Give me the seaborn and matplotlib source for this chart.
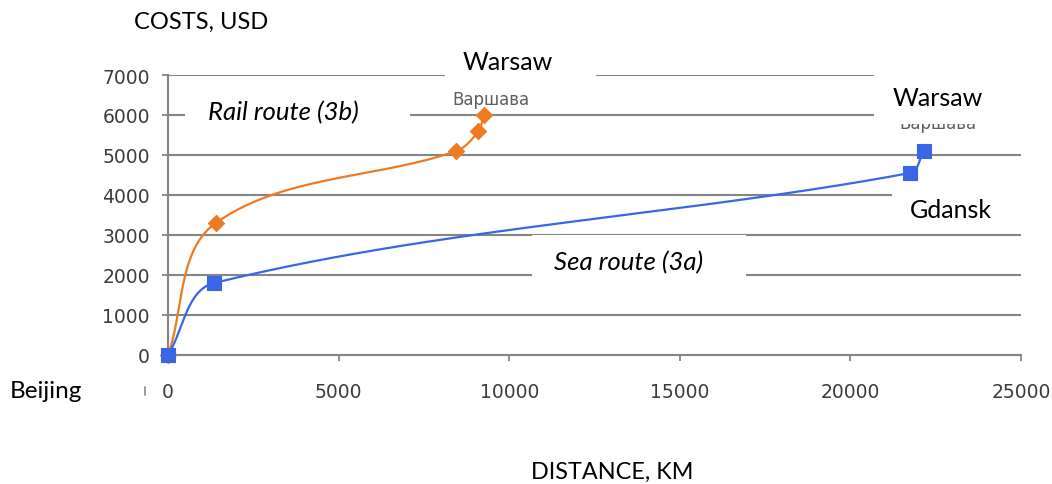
import numpy as np
import pandas as pd
import seaborn as sns
import matplotlib
matplotlib.use("Agg")
import matplotlib.pyplot as plt
from matplotlib.patches import Rectangle
from matplotlib.lines import Line2D

# ---- data ----
rail_x = [0, 1400, 8450, 9100, 9250]
rail_y = [0, 3300, 5100, 5600, 6000]
sea_x = [0, 1350, 21750, 22150]
sea_y = [0, 1800, 4550, 5100]
x_ticks = [0, 5000, 10000, 15000, 20000, 25000]
y_ticks = [0, 1000, 2000, 3000, 4000, 5000, 6000, 7000]

sns.set_theme(style="white")
plt.rcParams['font.family'] = ['DejaVu Sans']

W, H = 1052, 485
PT = 0.72  # points per pixel at 100 dpi
fig = plt.figure(figsize=(W / 100, H / 100), dpi=100)
fig.patch.set_facecolor("white")
L, R, T, B = 168, 1021, 76, 356
ax = fig.add_axes([L / W, 1 - B / H, (R - L) / W, (B - T) / H])
ax.set_facecolor("white")

sx = (R - L) / 25000.0
sy = (B - T) / 7000.0


def smooth(xs, ys, n=60):
    """Excel-like smoothed line through the points (bezier in screen space)."""
    P = np.column_stack([np.asarray(xs) * sx, np.asarray(ys) * sy]).astype(float)
    m = len(P)
    Tg = np.zeros_like(P)
    for i in range(m):
        if i == 0:
            d = P[1] - P[0]
        elif i == m - 1:
            d = P[-1] - P[-2]
        else:
            d = P[i + 1] - P[i - 1]
        Tg[i] = d / np.linalg.norm(d)
    out = []
    t = np.linspace(0, 1, n)[:, None]
    for i in range(m - 1):
        seg = np.linalg.norm(P[i + 1] - P[i])
        c1 = P[i] + Tg[i] * seg / 3
        c2 = P[i + 1] - Tg[i + 1] * seg / 3
        b = ((1 - t) ** 3) * P[i] + 3 * ((1 - t) ** 2) * t * c1 + 3 * (1 - t) * t ** 2 * c2 + t ** 3 * P[i + 1]
        out.append(b if i == 0 else b[1:])
    out = np.vstack(out)
    return pd.DataFrame({"x": out[:, 0] / sx, "y": out[:, 1] / sy})

orange = "#EE7A22"
blue = "#3A66E6"
grid_c = "#858585"
tick_c = "#3c3c3c"

rail_s = smooth(rail_x, rail_y)
sea_s = smooth(sea_x, sea_y)
sns.lineplot(data=rail_s, x="x", y="y", sort=False, color=orange, linewidth=1.6, ax=ax, zorder=3)
sns.scatterplot(x=rail_x, y=rail_y, marker="D", s=70, color=orange, edgecolor=orange, ax=ax, zorder=4)
sns.lineplot(data=sea_s, x="x", y="y", sort=False, color=blue, linewidth=1.6, ax=ax, zorder=5)
sns.scatterplot(x=sea_x, y=sea_y, marker="s", s=100, color=blue, edgecolor=blue, ax=ax, zorder=6)
for c in ax.collections:
    c.set_clip_on(False)
for ln in ax.lines:
    ln.set_clip_on(False)

ax.set_xlim(0, 25000)
ax.set_ylim(0, 7000)
ax.set_yticks(y_ticks)
ax.set_xticks(x_ticks)
ax.set_xticklabels([str(v) for v in x_ticks])
ax.set_yticklabels([str(v) for v in y_ticks])
ax.set_xlabel("")
ax.set_ylabel("")
ax.yaxis.grid(True, color=grid_c, linewidth=1.5)
ax.xaxis.grid(False)
ax.set_axisbelow(True)
for s in ["top", "right"]:
    ax.spines[s].set_visible(False)
for s in ["left", "bottom"]:
    ax.spines[s].set_color(grid_c)
    ax.spines[s].set_linewidth(1.5)
ax.tick_params(axis="y", which="both", left=True, length=6 * PT, width=1.3, color=grid_c,
               pad=12 * PT, labelsize=13.5, labelcolor=tick_c)
ax.tick_params(axis="x", which="both", bottom=True, length=6 * PT, width=1.3, color=grid_c,
               pad=21 * PT, labelsize=13.5, labelcolor=tick_c)

ftr = fig.transFigure


def fx(px):
    return px / W


def fy(py):
    return 1 - py / H

# Russian data labels (gray, small)
ax.text(fx(491), fy(100), "Варшава", transform=ftr, ha="center", va="center",
        fontsize=12, color="#5e5e5e", family="DejaVu Sans Condensed",
        zorder=1, clip_on=False)
ax.text(fx(938), fy(124), "Варшава", transform=ftr, ha="center", va="center",
        fontsize=12, color="#5e5e5e", family="DejaVu Sans Condensed", zorder=1, clip_on=False)

# white label boxes
boxes = [
    (185, 85, 410, 135),    # Rail route
    (445, 46, 596, 84),     # Warsaw top
    (874, 70, 1052, 125),   # Warsaw right
    (892, 179, 1052, 226),  # Gdansk
    (532, 236, 746, 287),   # Sea route
]
for x0, y0, x1, y1 in boxes:
    ax.add_patch(Rectangle((fx(x0), fy(y1)), fx(x1) - fx(x0), (y1 - y0) / H, transform=ftr,
                           facecolor="white", edgecolor="none", zorder=2, clip_on=False))

lab_font = "Lato"


def label(px, py, s, size, style="normal"):
    ax.text(fx(px), fy(py), s, transform=ftr, ha="center", va="center", fontsize=size,
            family=lab_font, style=style, color="black", zorder=10, clip_on=False)

label(201, 22, "COSTS, USD", 17)
label(612, 472, "DISTANCE, KM", 16.8)
label(508, 62, "Warsaw", 18)
label(938, 99, "Warsaw", 18)
label(951, 210, "Gdansk", 18)
label(46, 392, "Beijing", 17.5)
label(283, 113, "Rail route (3b)", 18.5, style="italic")
label(629, 263, "Sea route (3a)", 18.5, style="italic")

fig.add_artist(Line2D([fx(145), fx(145)], [fy(388), fy(396)], color="#9a9a9a", linewidth=1.4))

fig.savefig("out.png", dpi=100, facecolor="white")
